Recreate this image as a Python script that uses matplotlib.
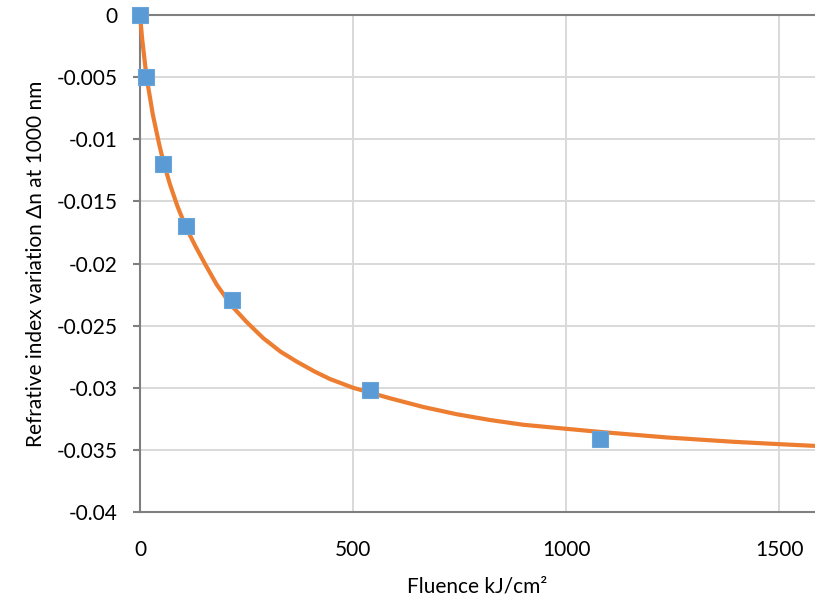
import matplotlib
matplotlib.use('Agg')
from matplotlib import pyplot as plt
from matplotlib.ticker import MultipleLocator, FuncFormatter

# measured points
fluence = [0, 13.5, 54, 108, 216, 540, 1080]
delta_n = [0, -0.005, -0.012, -0.017, -0.0229, -0.0302, -0.0341]

# fitted curve
fit_x = [0, 5, 15, 30, 45, 54, 70, 88, 108, 130, 152, 180, 215, 250, 289,
         330, 368, 410, 446, 500, 587, 665, 743, 822, 900, 999, 1088, 1236,
         1393, 1500, 1584]
fit_y = [0, -0.0019, -0.0049, -0.0080, -0.0104, -0.0117, -0.0136, -0.0154,
         -0.0171, -0.0186, -0.0200, -0.0217, -0.0234, -0.0247, -0.0260,
         -0.0271, -0.0279, -0.0287, -0.0293, -0.0300, -0.03085, -0.03155,
         -0.03213, -0.0326, -0.03298, -0.0333, -0.03358, -0.0340, -0.03435,
         -0.03454, -0.03468]

plt.rcParams['font.family'] = ['Lato', 'DejaVu Sans']

fig = plt.figure(figsize=(8.15, 6.01), dpi=100)
ax = fig.add_axes([140 / 815, 1 - 512 / 601, 1 - 140 / 815, (512 - 15) / 601])

ax.plot(fit_x, fit_y, color='#ED7D31', linewidth=3, zorder=3, clip_on=False,
        solid_joinstyle='round', solid_capstyle='butt')
ax.plot(fluence, delta_n, linestyle='none', marker='s', markersize=11,
        color='#5B9BD5', markeredgecolor='#6AA5DA', markeredgewidth=0.8,
        zorder=4, clip_on=False)

ax.set_xlim(0, 1584)
ax.set_ylim(-0.04, 0)
ax.xaxis.set_major_locator(MultipleLocator(500))
ax.yaxis.set_major_locator(MultipleLocator(0.005))
ax.yaxis.set_major_formatter(FuncFormatter(lambda v, p: '0' if abs(v) < 1e-9 else f'{v:g}'))

ax.grid(True, color='#D9D9D9', linewidth=1.4)
ax.set_axisbelow(True)
for key in ['left', 'top', 'bottom']:
    ax.spines[key].set_color('#7F7F7F')
    ax.spines[key].set_linewidth(1.5)
ax.spines['right'].set_visible(False)

ax.tick_params(axis='y', length=5, width=1.5, color='#7F7F7F', pad=11,
               labelsize=15, labelcolor='#000000')
ax.tick_params(axis='x', length=0, pad=20, labelsize=15, labelcolor='#000000')

ax.set_xlabel('Fluence kJ/cm²', fontsize=15, labelpad=12)
ax.set_ylabel('Refrative index variation Δn at 1000 nm', fontsize=15, labelpad=8)

plt.savefig('out.png', dpi=100)
plt.close('all')
